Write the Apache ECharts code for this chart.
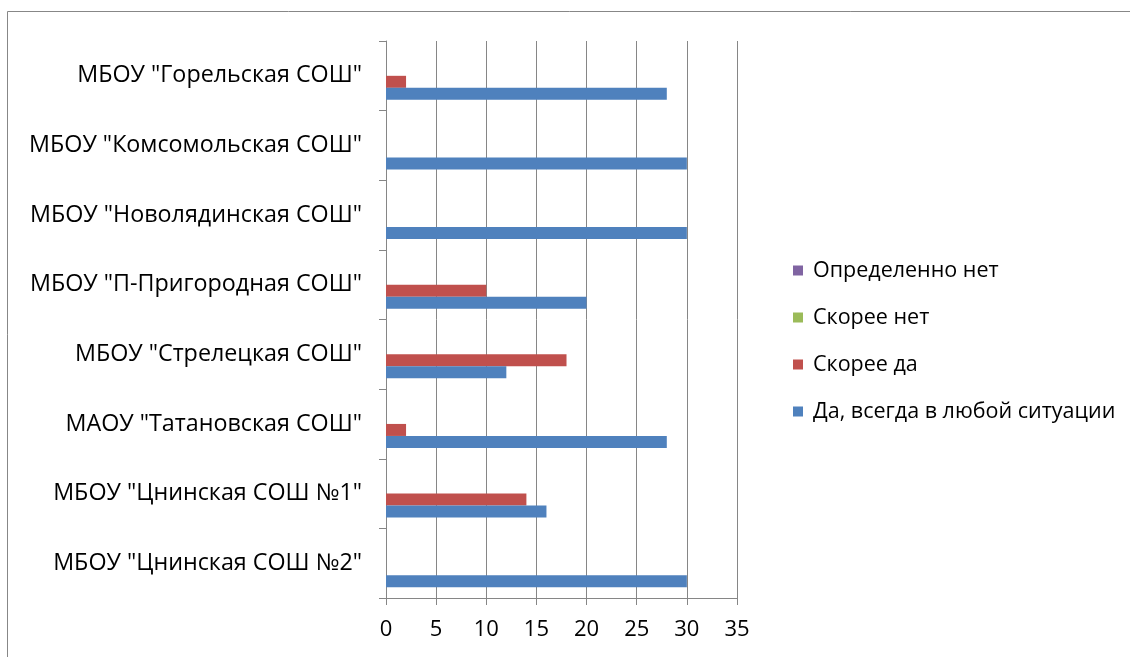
<!DOCTYPE html>
<html><head><meta charset="utf-8">
<script src="https://cdn.jsdelivr.net/npm/echarts@6/dist/echarts.min.js"></script>
<style>html,body{margin:0;padding:0;background:#fff}#c{width:1130px;height:657px}</style>
</head><body><div id="c"></div>
<script>
const categories = ['МБОУ "Цнинская СОШ №2"','МБОУ "Цнинская СОШ №1"','МАОУ "Татановская СОШ"','МБОУ "Стрелецкая СОШ"','МБОУ "П-Пригородная СОШ"','МБОУ "Новолядинская СОШ"','МБОУ "Комсомольская СОШ"','МБОУ "Горельская СОШ"'];
const seriesNames = ['Да, всегда в любой ситуации','Скорее да','Скорее нет','Определенно нет'];
const daVsegda = [30,16,28,12,20,30,30,28];
const skoreeDa = [0,14,2,18,10,0,0,2];
const skoreeNet = [0,0,0,0,0,0,0,0];
const opredNet = [0,0,0,0,0,0,0,0];
const xTicks = [0,35,5];
const colors = ['#4F81BD','#C0504D','#9BBB59','#8064A2'];
const values = [daVsegda, skoreeDa, skoreeNet, opredNet];
const font = '"Open Sans", "Noto Sans", sans-serif';
const order = [3,2,1,0];
const chart = echarts.init(document.getElementById('c'));
chart.setOption({
  animation:false,
  textStyle:{fontFamily:font},
  graphic:[{type:'rect',shape:{x:7.5,y:11.5,width:1300,height:800},style:{fill:'none',stroke:'#878787',lineWidth:1},silent:true}],
  grid:{left:386,right:393,top:41,bottom:59,containLabel:false},
  legend:{orient:'vertical',left:788,top:254,itemGap:24,itemWidth:10,itemHeight:10,
    icon:'rect',data:order.map(i=>seriesNames[i]),
    textStyle:{fontSize:21.5,lineHeight:23,color:'#000',fontFamily:font,padding:[0,0,0,5]}},
  xAxis:{type:'value',min:xTicks[0],max:xTicks[1],interval:xTicks[2],
    axisLine:{show:true,lineStyle:{color:'#868686'}},
    axisTick:{show:true,length:7,lineStyle:{color:'#868686'}},
    splitLine:{show:true,lineStyle:{color:'#868686'}},
    axisLabel:{fontSize:22,color:'#000',margin:21,fontFamily:font}},
  yAxis:{type:'category',data:categories,
    axisLine:{show:true,lineStyle:{color:'#868686'}},
    axisTick:{show:true,length:7,alignWithLabel:false,lineStyle:{color:'#868686'}},
    axisLabel:{fontSize:23.3,color:'#000',margin:24,fontFamily:font}},
  series: order.map(i=>({name:seriesNames[i],type:'bar',data:values[i],barGap:'0%',barCategoryGap:'31%',
    itemStyle:{color:colors[i]}}))
});
</script></body></html>
